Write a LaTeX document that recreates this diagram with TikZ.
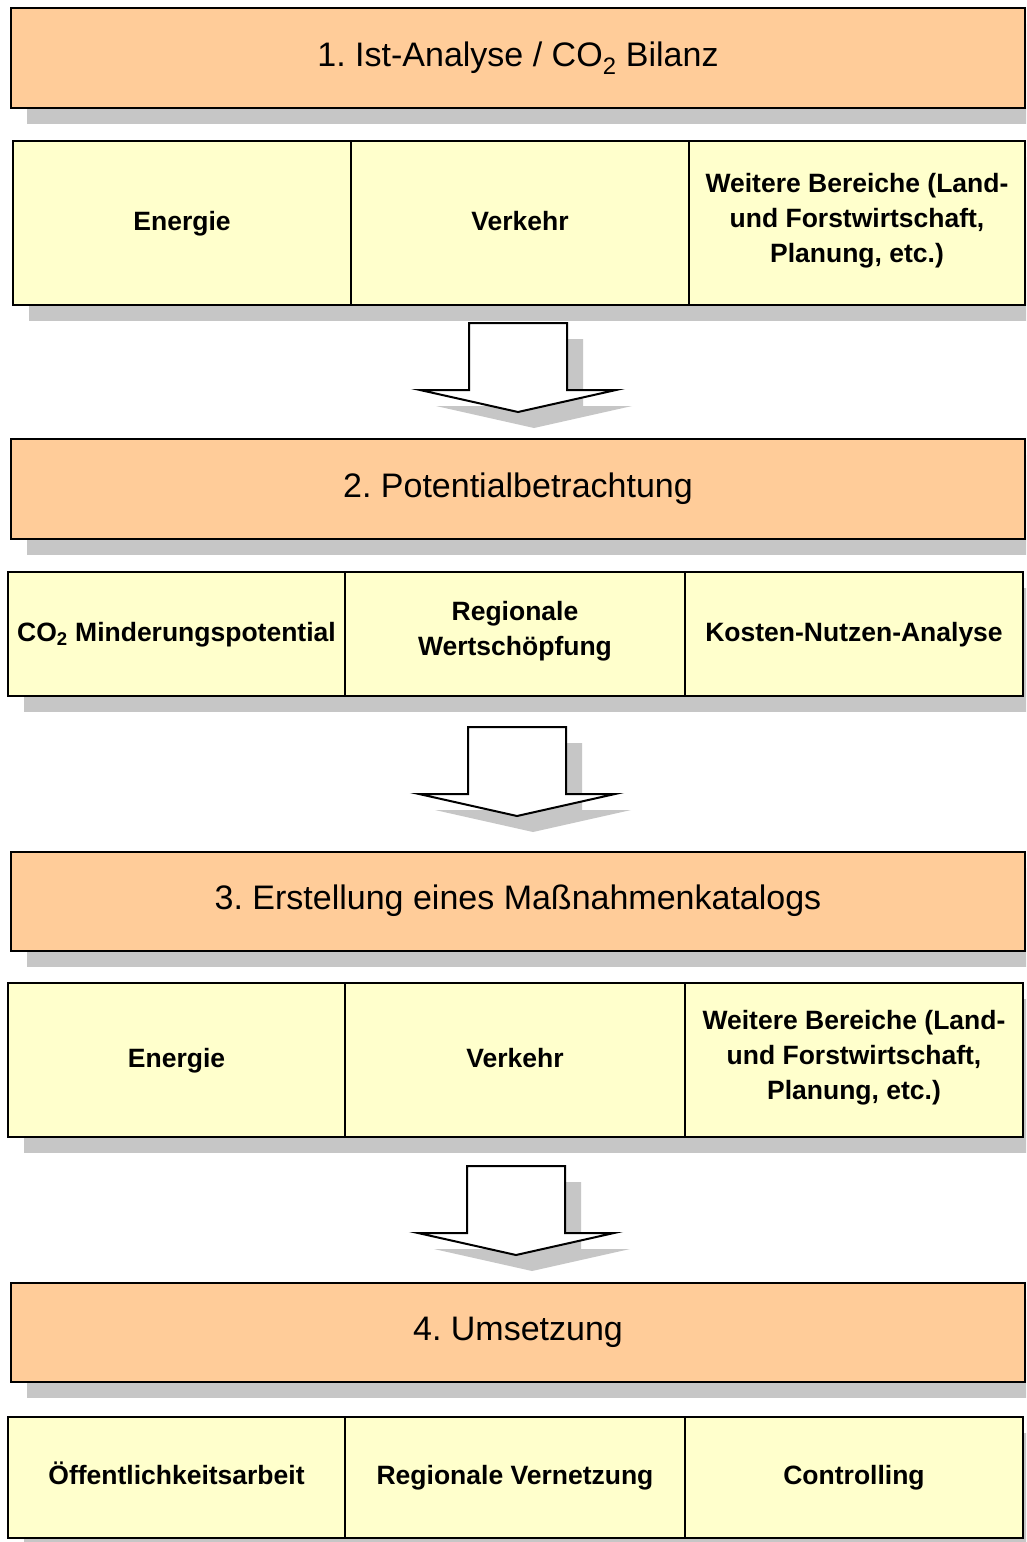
\documentclass[tikz,border=0pt]{standalone}
\usepackage{fontspec}
\setmainfont{Liberation Sans}
\usetikzlibrary{shadows}
\frenchspacing
\definecolor{headfill}{HTML}{FFCC99}
\definecolor{cellfill}{HTML}{FFFFCC}
\definecolor{shadowgray}{HTML}{C6C6C6}
\tikzset{
  boxshadow/.style={drop shadow={shadow xshift=16pt, shadow yshift=-16pt, fill=shadowgray, opacity=1}},
  strutted/.style={execute at begin node=\strut, execute at end node=\strut},
  headbox/.style={draw=black, line width=2pt, fill=headfill, inner sep=0pt, outer sep=0pt, boxshadow, strutted,
    font=\fontsize{34}{40}\selectfont, align=center},
  cellbox/.style={draw=black, line width=2pt, fill=cellfill, inner sep=0pt, outer sep=0pt, boxshadow, strutted,
    font=\bfseries\fontsize{26.5}{35}\selectfont, align=center},
  blockarrow/.style={draw=black, line width=2pt, fill=white, line join=miter},
  arrowshadow/.style={fill=shadowgray, draw=none},
  downarrow/.pic={
    \path[arrowshadow] (-33,16) -- (65,16) -- (65,83) -- (114,83) -- (16,105) -- (-82,83) -- (-33,83) -- cycle;
    \path[blockarrow] (-49,0) -- (49,0) -- (49,67) -- (98,67) -- (0,89) -- (-98,67) -- (-49,67) -- cycle;
  }
}
\begin{document}
\begin{tikzpicture}[x=1pt, y=-1pt]
\useasboundingbox (0,0) rectangle (1026,1542);
\clip (0,0) rectangle (1026,1542);
\fill[white] (0,0) rectangle (1026,1542);

% Stage 1
\node[headbox, minimum width=1014pt, minimum height=100pt] (h1) at (518,58) {1. Ist-Analyse / CO\textsubscript{2} Bilanz};
\node[cellbox, minimum width=338pt, minimum height=164pt] (c11) at (182,223) {Energie};
\node[cellbox, minimum width=338pt, minimum height=164pt] (c12) at (520,223) {Verkehr};
\node[cellbox, minimum width=336pt, minimum height=164pt] (c13) at (857,223) {Weitere Bereiche (Land-\\und Forstwirtschaft,\\Planung, etc.)};
\pic (a1) at (518,323) {downarrow};

% Stage 2
\node[headbox, minimum width=1014pt, minimum height=100pt] (h2) at (518,489) {2. Potentialbetrachtung};
\node[cellbox, minimum width=337pt, minimum height=124pt] (c21) at (176.5,634) {CO\textsubscript{2} Minderungspotential};
\node[cellbox, minimum width=340pt, minimum height=124pt] (c22) at (515,634) {Regionale\\Wertschöpfung};
\node[cellbox, minimum width=338pt, minimum height=124pt] (c23) at (854,634) {Kosten-Nutzen-Analyse};
\pic (a2) at (517,727) {downarrow};

% Stage 3
\node[headbox, minimum width=1014pt, minimum height=99pt] (h3) at (518,901.5) {3. Erstellung eines Maßnahmenkatalogs};
\node[cellbox, minimum width=337pt, minimum height=154pt] (c31) at (176.5,1060) {Energie};
\node[cellbox, minimum width=340pt, minimum height=154pt] (c32) at (515,1060) {Verkehr};
\node[cellbox, minimum width=338pt, minimum height=154pt] (c33) at (854,1060) {Weitere Bereiche (Land-\\und Forstwirtschaft,\\Planung, etc.)};
\pic (a3) at (516,1166) {downarrow};

% Stage 4
\node[headbox, minimum width=1014pt, minimum height=99pt] (h4) at (518,1332.5) {4. Umsetzung};
\node[cellbox, minimum width=337pt, minimum height=121pt] (c41) at (176.5,1477.5) {Öffentlichkeitsarbeit};
\node[cellbox, minimum width=340pt, minimum height=121pt] (c42) at (515,1477.5) {Regionale Vernetzung};
\node[cellbox, minimum width=338pt, minimum height=121pt] (c43) at (854,1477.5) {Controlling};
\end{tikzpicture}
\end{document}
